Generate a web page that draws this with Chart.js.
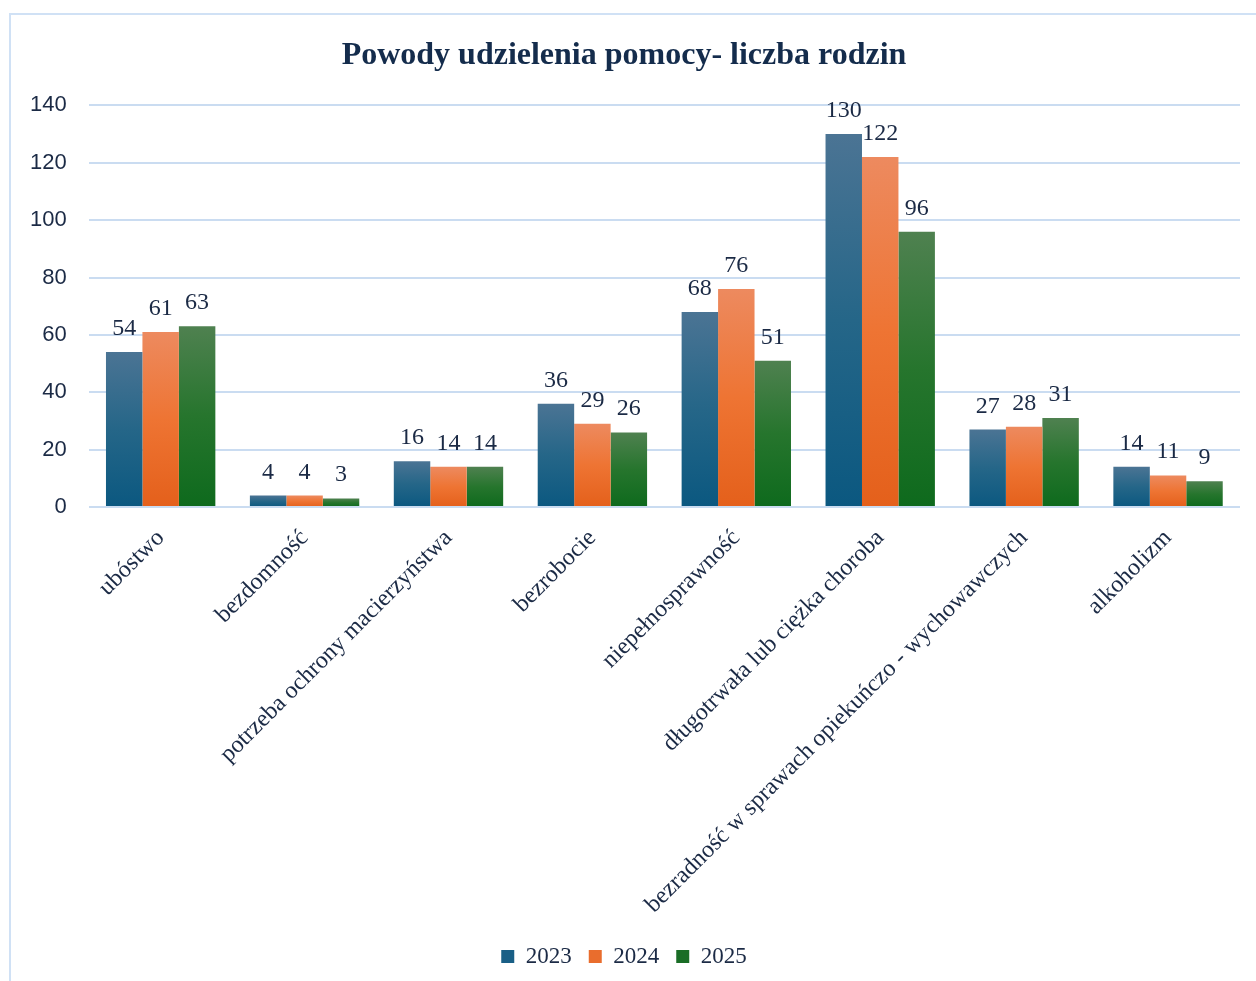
<!DOCTYPE html>
<html>
<head>
<meta charset="utf-8">
<script src="https://cdn.jsdelivr.net/npm/chart.js@4/dist/chart.umd.min.js"></script>
<style>
    html, body { margin: 0; padding: 0; background: #fff; }
    #wrap { position: relative; width: 1256px; height: 981px; }
    #ramka {
        position: absolute; left: 9px; top: 13px; right: -10px; bottom: -10px;
        border-top: 2px solid #d0e1f5; border-left: 2px solid #d0e1f5;
    }
    canvas { position: absolute; left: 0; top: 0; }
</style>
</head>
<body>
<div id="wrap">
    <div id="ramka"></div>
    <canvas id="wykres" width="1256" height="981"></canvas>
</div>
<script>
const kategorie = [
    'ubóstwo',
    'bezdomność',
    'potrzeba ochrony macierzyństwa',
    'bezrobocie',
    'niepełnosprawność',
    'długotrwała lub ciężka choroba',
    'bezradność w sprawach opiekuńczo - wychowawczych',
    'alkoholizm'
];
const lata = ['2023', '2024', '2025'];
const dane2023 = [54, 4, 16, 36, 68, 130, 27, 14];
const dane2024 = [61, 4, 14, 29, 76, 122, 28, 11];
const dane2025 = [63, 3, 14, 26, 51, 96, 31, 9];

const SERIF = '"Liberation Serif", "Times New Roman", serif';

// kolory: gora jasniejsza, srodek, dol ciemniejszy
const kolory = [
    { gora: '#4b7494', srodek: '#256688', dol: '#0b5880', pelny: '#195f86' },
    { gora: '#ed8a5f', srodek: '#ee7433', dol: '#e4601b', pelny: '#e96d2d' },
    { gora: '#4f8150', srodek: '#26752d', dol: '#0e6a1d', pelny: '#1a6d26' }
];

function gradient(idx) {
    return function (context) {
        const chart = context.chart;
        if (!chart.chartArea || context.type !== 'data') return kolory[idx].pelny;
        const y = chart.scales.y;
        const top = y.getPixelForValue(context.raw);
        const base = y.getPixelForValue(0);
        if (!isFinite(top) || base - top < 1) return kolory[idx].pelny;
        const g = chart.ctx.createLinearGradient(0, top, 0, base);
        g.addColorStop(0, kolory[idx].gora);
        g.addColorStop(0.5, kolory[idx].srodek);
        g.addColorStop(1, kolory[idx].dol);
        return g;
    };
}

const etykietyPlugin = {
    id: 'etykiety',
    afterDatasetsDraw(chart) {
        const ctx = chart.ctx;
        ctx.save();
        ctx.font = '24px ' + SERIF;
        ctx.fillStyle = '#1b2a45';
        ctx.textAlign = 'center';
        ctx.textBaseline = 'alphabetic';
        chart.data.datasets.forEach((ds, i) => {
            const meta = chart.getDatasetMeta(i);
            meta.data.forEach((bar, j) => {
                ctx.fillText(ds.data[j], bar.x, bar.y - 17);
            });
        });
        ctx.restore();
    }
};

const zbiory = [dane2023, dane2024, dane2025].map((d, i) => ({
    label: lata[i],
    data: d,
    backgroundColor: gradient(i),
    borderWidth: 0,
    barPercentage: 1,
    categoryPercentage: 0.76
}));

new Chart(document.getElementById('wykres').getContext('2d'), {
    type: 'bar',
    data: { labels: kategorie, datasets: zbiory },
    options: {
        responsive: false,
        animation: false,
        layout: { padding: { left: 8, right: 16, top: 37, bottom: 3 } },
        plugins: {
            title: {
                display: true,
                text: 'Powody udzielenia pomocy- liczba rodzin',
                color: '#142c4c',
                font: { family: SERIF, size: 32, weight: 'bold' },
                padding: { top: 0, bottom: 30 }
            },
            legend: {
                position: 'bottom',
                labels: {
                    color: '#1b2a45',
                    font: { family: SERIF, size: 23 },
                    boxWidth: 13,
                    boxHeight: 13,
                    padding: 17,
                    generateLabels(chart) {
                        return chart.data.datasets.map((ds, i) => ({
                            text: ds.label,
                            fillStyle: kolory[i].pelny,
                            strokeStyle: kolory[i].pelny,
                            lineWidth: 0,
                            datasetIndex: i,
                            fontColor: '#1b2a45'
                        }));
                    }
                }
            },
            tooltip: { enabled: false }
        },
        scales: {
            x: {
                grid: { display: false },
                border: { display: false },
                ticks: {
                    color: '#1b2a45',
                    font: { family: SERIF, size: 24 },
                    maxRotation: 45,
                    minRotation: 45,
                    autoSkip: false,
                    padding: 9
                }
            },
            y: {
                min: 0,
                max: 140,
                ticks: {
                    stepSize: 20,
                    color: '#1b2a45',
                    font: { family: '"Liberation Sans", Arial, sans-serif', size: 22 },
                    padding: 22
                },
                grid: { color: '#cadcf1', lineWidth: 2, drawTicks: false },
                border: { display: false }
            }
        }
    },
    plugins: [etykietyPlugin]
});
</script>
</body>
</html>
